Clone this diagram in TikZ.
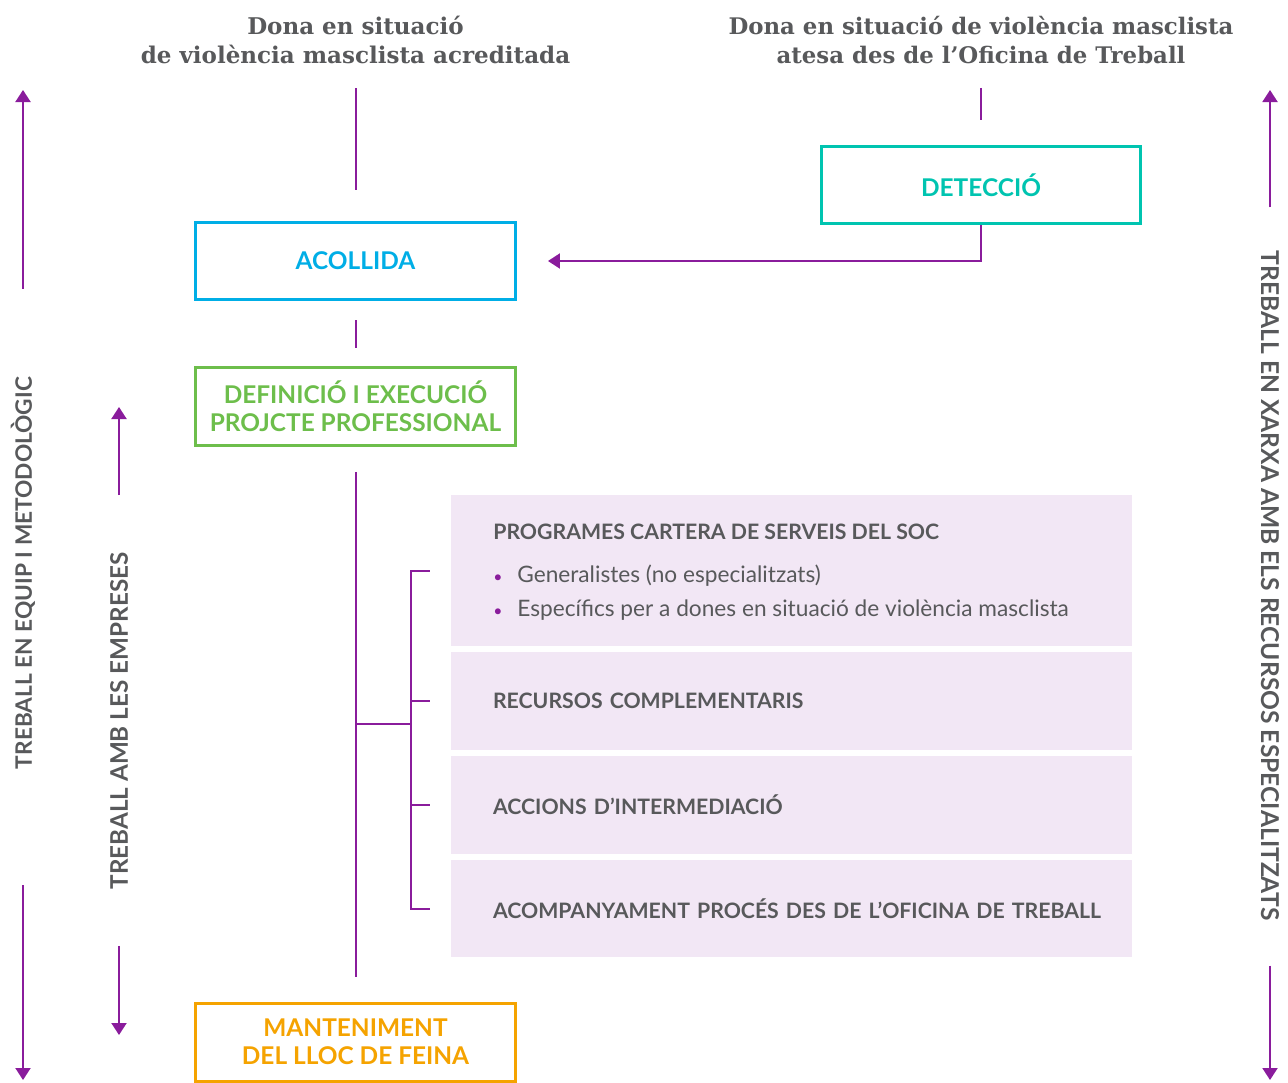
\documentclass[tikz,border=0pt]{standalone}
\usepackage{fontspec}
\setmainfont{Lato}
\newfontfamily\titlefont{DejaVu Serif}
\usetikzlibrary{arrows.meta}

\definecolor{vwpurple}{HTML}{8A1C9C}
\definecolor{vwgrey}{HTML}{58595B}
\definecolor{acollcol}{HTML}{00AEE6}
\definecolor{deteccol}{HTML}{00C4B0}
\definecolor{defcol}{HTML}{6DBE4B}
\definecolor{mantcol}{HTML}{F5A300}
\definecolor{svcfill}{HTML}{F2E7F5}

\tikzset{
  heading/.style={align=center, text=vwgrey, font=\titlefont\bfseries\fontsize{13.1}{17}\selectfont},
  stage/.style={draw, fill=white, line width=0.06cm, minimum width=6.4cm, minimum height=1.56cm,
    align=center, font=\bfseries\fontsize{13.9}{16}\selectfont},
  service/.style={fill=svcfill, minimum width=13.62cm, text width=11.94cm, inner xsep=0.84cm,
    align=left, text=vwgrey, font=\bfseries\fontsize{12.1}{14}\selectfont},
  servitem/.style={anchor=west, inner sep=0pt, text=vwgrey, font=\fontsize{12.9}{15}\selectfont},
  sidelabel/.style={inner sep=0pt, text=vwgrey, font=\bfseries\fontsize{12.9}{15}\selectfont},
  link/.style={vwpurple, line width=0.04cm},
  arrowlink/.style={link, -{Triangle[length=0.24cm, width=0.3cm]}}
}

\begin{document}
\begin{tikzpicture}[x=0.02cm, y=-0.02cm]
	\useasboundingbox (0,0) rectangle (1288,1082);

	% where the women come from
	\node[heading] (srcA) at (355.5,40) {Dona en situació\\de violència masclista acreditada};
	\node[heading, font=\titlefont\bfseries\fontsize{13}{17}\selectfont] (srcB) at (981,40) {Dona en situació de violència masclista\\atesa des de l’Oficina de Treball};

	% stages of the itinerary
	\node[stage, draw=deteccol, text=deteccol] (deteccio) at (981,185) {DETECCIÓ};
	\node[stage, draw=acollcol, text=acollcol] (acollida) at (355.5,261) {ACOLLIDA};
	\node[stage, draw=defcol, text=defcol] (definicio) at (355.5,406.5) {DEFINICIÓ I EXECUCIÓ\\PROJCTE PROFESSIONAL};
	\node[stage, draw=mantcol, text=mantcol] (manteniment) at (355.5,1042) {MANTENIMENT\\DEL LLOC DE FEINA};

	% services
	\node[service, minimum height=3.02cm] (programes) at (791.5,570.5) {};
	\node[service, minimum height=1.96cm] (recursos) at (791.5,701) {RECURSOS COMPLEMENTARIS};
	\node[service, minimum height=1.96cm] (intermed) at (791.5,805) {ACCIONS D’INTERMEDIACIÓ};
	\node[service, minimum height=1.94cm] (acompany) at (791.5,908.5) {\mbox{ACOMPANYAMENT PROCÉS DES DE L’OFICINA DE TREBALL}};

	\node[servitem, font=\bfseries\fontsize{12.1}{14}\selectfont] (progtitle) at (493,532) {PROGRAMES CARTERA DE SERVEIS DEL SOC};
	\node[servitem] (itemA) at (493,576) {\makebox[0.48cm][l]{\textcolor{vwpurple}{\small•}}Generalistes (no especialitzats)};
	\node[servitem] (itemB) at (493,610) {\makebox[0.48cm][l]{\textcolor{vwpurple}{\small•}}Específics per a dones en situació de violència masclista};

	% side labels
	\node[sidelabel, rotate=90] (equip) at (23,573) {TREBALL EN EQUIP I METODOLÒGIC};
	\node[sidelabel, rotate=90, font=\bfseries\fontsize{13.8}{15}\selectfont] (empreses) at (119,721) {TREBALL AMB LES EMPRESES};
	\node[sidelabel, rotate=-90, font=\bfseries\fontsize{14}{15}\selectfont] (xarxa) at (1270,585.5) {TREBALL EN XARXA AMB ELS RECURSOS ESPECIALITZATS};

	\coordinate (equipTop) at (23,90);
	\coordinate (equipBot) at (23,1080);
	\coordinate (empTop) at (119,407);
	\coordinate (empBot) at (119,1035);
	\coordinate (xarxaTop) at (1270,90);
	\coordinate (xarxaBot) at (1270,1080);
	\coordinate (fork) at (411,724);

	% Draw the flow
	\draw[link, shorten <=0.35cm, shorten >=0.62cm] (srcA) -- (acollida);
	\draw[link, shorten <=0.35cm, shorten >=0.5cm] (srcB) -- (deteccio);
	\draw[arrowlink, shorten >=0.62cm] (deteccio.south) |- (acollida.east);
	\draw[link, shorten <=0.38cm, shorten >=0.36cm] (acollida) -- (definicio);
	\draw[link, shorten <=0.5cm, shorten >=0.5cm] (definicio) -- (manteniment);
	\draw[link] (definicio.south |- fork) -- (fork);
	\foreach \svc in {programes, recursos, intermed, acompany}
		\draw[link, shorten <=0.42cm] (\svc.west) -| (fork);

	% Draw the side arrows
	\draw[arrowlink, shorten <=1.76cm] (equip.east) -- (equipTop);
	\draw[arrowlink, shorten <=2.32cm] (equip.west) -- (equipBot);
	\draw[arrowlink, shorten <=1.14cm] (empreses.east) -- (empTop);
	\draw[arrowlink, shorten <=1.12cm] (empreses.west) -- (empBot);
	\draw[arrowlink, shorten <=0.86cm] (xarxa.west) -- (xarxaTop);
	\draw[arrowlink, shorten <=0.9cm] (xarxa.east) -- (xarxaBot);
\end{tikzpicture}
\end{document}
